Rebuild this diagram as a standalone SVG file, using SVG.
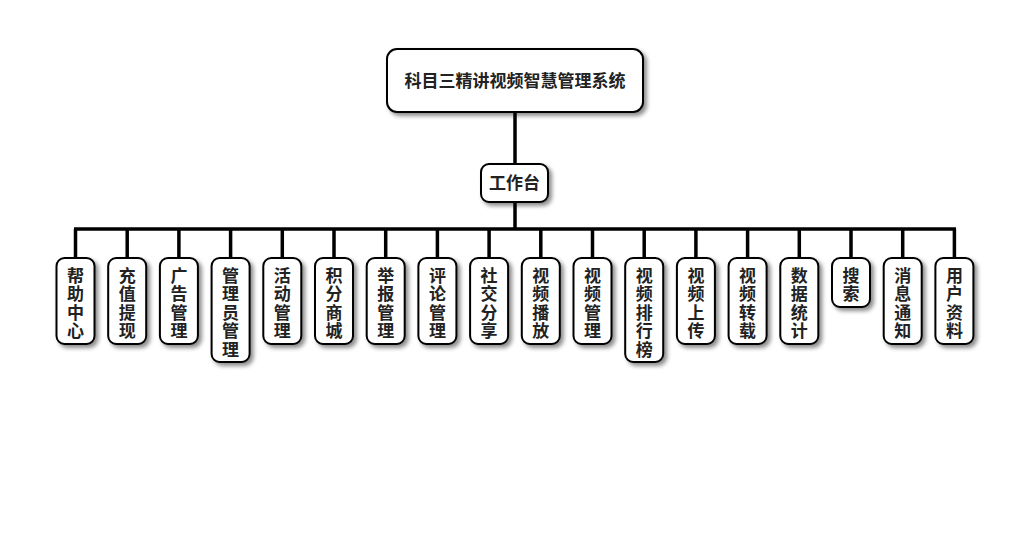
<svg xmlns="http://www.w3.org/2000/svg" width="1030" height="560" viewBox="0 0 1030 560">
<defs>
<filter id="sh" x="-30%" y="-30%" width="160%" height="160%">
<feDropShadow dx="3" dy="3" stdDeviation="2" flood-color="#000" flood-opacity="0.45"/>
</filter>
</defs>
<style>
.box{fill:#fff;stroke:#000;stroke-width:2;filter:url(#sh)}
.t{font-family:"Noto Sans CJK SC","Liberation Sans",sans-serif;font-weight:bold;fill:#222;text-anchor:middle}
.v{font-family:"Noto Sans CJK SC","Liberation Sans",sans-serif;font-weight:bold;fill:#222;font-size:17px;writing-mode:vertical-rl;letter-spacing:1.5px;text-anchor:start}
.con{stroke:#000;stroke-width:3.5;fill:none}
</style>
<rect width="1030" height="560" fill="#fff"/>
<g id="connectors">
<line class="con" x1="515" y1="112" x2="515" y2="164"/>
<line class="con" x1="515" y1="202" x2="515" y2="229"/>
<line class="con" x1="74" y1="229" x2="956" y2="229"/>
<path class="con" d="M75.5 229V258M127.2 229V258M178.9 229V258M230.6 229V258M282.3 229V258M334 229V258M385.7 229V258M437.4 229V258M489.1 229V258M540.8 229V258M592.5 229V258M644.2 229V258M695.9 229V258M747.6 229V258M799.3 229V258M851 229V258M902.7 229V258M954.4 229V258"/>
</g>
<g id="root">
<rect class="box" x="387" y="49" width="256" height="63" rx="10"/>
<text class="t" x="515" y="87" font-size="17">科目三精讲视频智慧管理系统</text>
</g>
<g id="workbench">
<rect class="box" x="481" y="164" width="67" height="38" rx="8"/>
<text class="t" x="514.5" y="189" font-size="17">工作台</text>
</g>
<g id="n1"><rect class="box" x="56.5" y="258" width="38" height="86" rx="8"/><text class="v" x="75.5" y="267">帮助中心</text></g>
<g id="n2"><rect class="box" x="108.2" y="258" width="38" height="86" rx="8"/><text class="v" x="127.2" y="267">充值提现</text></g>
<g id="n3"><rect class="box" x="159.9" y="258" width="38" height="86" rx="8"/><text class="v" x="178.9" y="267">广告管理</text></g>
<g id="n4"><rect class="box" x="211.6" y="258" width="38" height="104" rx="8"/><text class="v" x="230.6" y="267">管理员管理</text></g>
<g id="n5"><rect class="box" x="263.3" y="258" width="38" height="86" rx="8"/><text class="v" x="282.3" y="267">活动管理</text></g>
<g id="n6"><rect class="box" x="315" y="258" width="38" height="86" rx="8"/><text class="v" x="334" y="267">积分商城</text></g>
<g id="n7"><rect class="box" x="366.7" y="258" width="38" height="86" rx="8"/><text class="v" x="385.7" y="267">举报管理</text></g>
<g id="n8"><rect class="box" x="418.4" y="258" width="38" height="86" rx="8"/><text class="v" x="437.4" y="267">评论管理</text></g>
<g id="n9"><rect class="box" x="470.1" y="258" width="38" height="86" rx="8"/><text class="v" x="489.1" y="267">社交分享</text></g>
<g id="n10"><rect class="box" x="521.8" y="258" width="38" height="86" rx="8"/><text class="v" x="540.8" y="267">视频播放</text></g>
<g id="n11"><rect class="box" x="573.5" y="258" width="38" height="86" rx="8"/><text class="v" x="592.5" y="267">视频管理</text></g>
<g id="n12"><rect class="box" x="625.2" y="258" width="38" height="104" rx="8"/><text class="v" x="644.2" y="267">视频排行榜</text></g>
<g id="n13"><rect class="box" x="676.9" y="258" width="38" height="86" rx="8"/><text class="v" x="695.9" y="267">视频上传</text></g>
<g id="n14"><rect class="box" x="728.6" y="258" width="38" height="86" rx="8"/><text class="v" x="747.6" y="267">视频转载</text></g>
<g id="n15"><rect class="box" x="780.3" y="258" width="38" height="86" rx="8"/><text class="v" x="799.3" y="267">数据统计</text></g>
<g id="n16"><rect class="box" x="832" y="258" width="38" height="49" rx="8"/><text class="v" x="851" y="267">搜索</text></g>
<g id="n17"><rect class="box" x="883.7" y="258" width="38" height="86" rx="8"/><text class="v" x="902.7" y="267">消息通知</text></g>
<g id="n18"><rect class="box" x="935.4" y="258" width="38" height="86" rx="8"/><text class="v" x="954.4" y="267">用户资料</text></g>
</svg>
